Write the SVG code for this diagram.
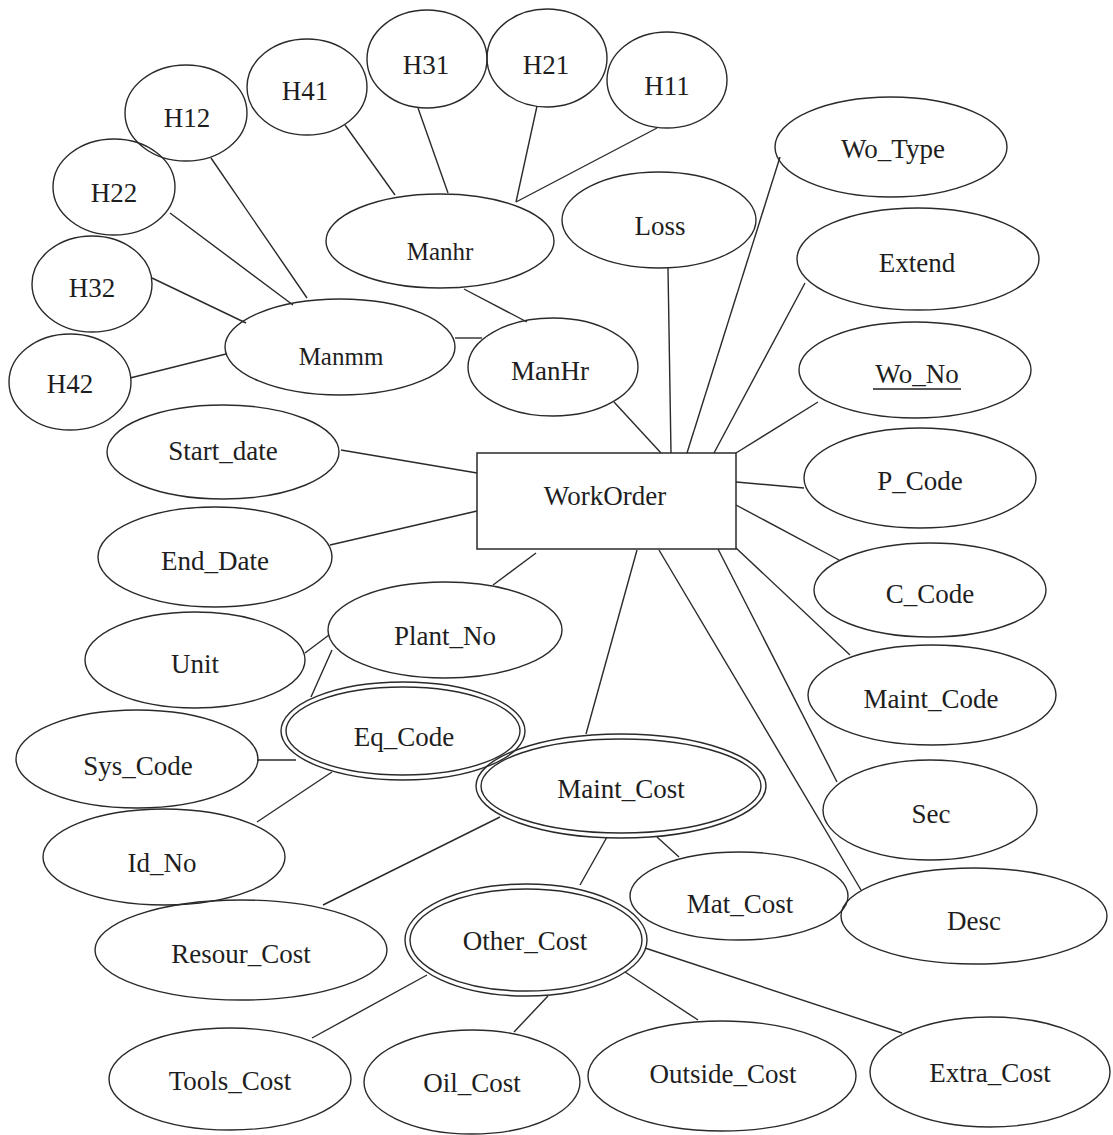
<svg xmlns="http://www.w3.org/2000/svg" width="1113" height="1135" viewBox="0 0 1113 1135">
  <style>
    .bg { fill: #ffffff; }
    .attr { fill: none; stroke: #2a2a2a; stroke-width: 1.4; }
    .ent { fill: none; stroke: #2a2a2a; stroke-width: 1.5; }
    .conn line { stroke: #2a2a2a; stroke-width: 1.4; }
    text { font-family: "Liberation Serif", "Times New Roman", serif; font-size: 27px; fill: #1e1e1e; text-anchor: middle; }
    .small { font-size: 25px; }
    .key { stroke: #1e1e1e; stroke-width: 1.3; }
  </style>
  <rect class="bg" x="0" y="0" width="1113" height="1135"/>

  <!-- relationships between the entity, its attributes and sub-attributes -->
  <g id="connectors" class="conn">
    <!-- Manmm components -->
    <line x1="211" y1="158" x2="307" y2="298"/>
    <line x1="170" y1="213" x2="293" y2="305"/>
    <line x1="152" y1="278" x2="246" y2="323"/>
    <line x1="130" y1="378" x2="226" y2="354"/>
    <!-- Manhr components -->
    <line x1="345" y1="125" x2="395" y2="195"/>
    <line x1="418" y1="108" x2="448" y2="193"/>
    <line x1="537" y1="106" x2="516" y2="202"/>
    <line x1="657" y1="128" x2="516" y2="202"/>
    <!-- ManHr composite -->
    <line x1="464" y1="289" x2="527" y2="322"/>
    <line x1="455" y1="338" x2="482" y2="338"/>
    <line x1="614" y1="402" x2="661" y2="453"/>
    <!-- WorkOrder top -->
    <line x1="668" y1="268" x2="671" y2="453"/>
    <line x1="780" y1="157" x2="687" y2="453"/>
    <line x1="805" y1="283" x2="714" y2="453"/>
    <line x1="818" y1="402" x2="736" y2="453"/>
    <!-- WorkOrder right -->
    <line x1="736" y1="482" x2="804" y2="488"/>
    <line x1="736" y1="505" x2="839" y2="560"/>
    <line x1="736" y1="548" x2="850" y2="655"/>
    <line x1="718" y1="549" x2="837" y2="782"/>
    <line x1="659" y1="550" x2="861" y2="890"/>
    <!-- WorkOrder bottom / left -->
    <line x1="637" y1="550" x2="586" y2="734"/>
    <line x1="536" y1="553" x2="493" y2="585"/>
    <line x1="341" y1="450" x2="477" y2="473"/>
    <line x1="330" y1="545" x2="477" y2="511"/>
    <!-- Plant_No / Eq_Code -->
    <line x1="305" y1="653" x2="329" y2="635"/>
    <line x1="332" y1="650" x2="311" y2="697"/>
    <line x1="257" y1="760" x2="296" y2="760"/>
    <line x1="257" y1="822" x2="332" y2="772"/>
    <!-- Maint_Cost components -->
    <line x1="500" y1="817" x2="323" y2="905"/>
    <line x1="657" y1="837" x2="679" y2="857"/>
    <line x1="607" y1="837" x2="580" y2="885"/>
    <!-- Other_Cost components -->
    <line x1="427" y1="975" x2="312" y2="1038"/>
    <line x1="548" y1="996" x2="514" y2="1032"/>
    <line x1="625" y1="972" x2="698" y2="1020"/>
    <line x1="645" y1="948" x2="902" y2="1033"/>
  </g>

  <!-- entity -->
  <g id="WorkOrder">
    <rect class="ent" x="477" y="453" width="259" height="96"/>
    <text x="605" y="505">WorkOrder</text>
  </g>

  <!-- hour sub-attributes -->
  <g id="H12"><ellipse class="attr" cx="186" cy="113" rx="61" ry="48"/><text x="187" y="127">H12</text></g>
  <g id="H41"><ellipse class="attr" cx="307" cy="87" rx="60" ry="48"/><text x="305" y="100">H41</text></g>
  <g id="H31"><ellipse class="attr" cx="427" cy="59" rx="60" ry="49"/><text x="426" y="74">H31</text></g>
  <g id="H21"><ellipse class="attr" cx="547" cy="58" rx="60" ry="49"/><text x="546" y="74">H21</text></g>
  <g id="H11"><ellipse class="attr" cx="667" cy="80" rx="60" ry="48"/><text x="667" y="95">H11</text></g>
  <g id="H22"><ellipse class="attr" cx="114" cy="187" rx="61" ry="48"/><text x="114" y="202">H22</text></g>
  <g id="H32"><ellipse class="attr" cx="92" cy="284" rx="60" ry="48"/><text x="92" y="297">H32</text></g>
  <g id="H42"><ellipse class="attr" cx="70" cy="382" rx="61" ry="48"/><text x="70" y="393">H42</text></g>

  <g id="Manhr"><ellipse class="attr" cx="440" cy="241" rx="114" ry="47"/><text class="small" x="440" y="260">Manhr</text></g>
  <g id="Manmm"><ellipse class="attr" cx="340" cy="347" rx="115" ry="48"/><text class="small" x="341" y="365">Manmm</text></g>
  <g id="ManHr"><ellipse class="attr" cx="553" cy="367" rx="85" ry="49"/><text x="550" y="380">ManHr</text></g>

  <!-- WorkOrder attributes -->
  <g id="Loss"><ellipse class="attr" cx="659" cy="220" rx="97" ry="48"/><text x="660" y="235">Loss</text></g>
  <g id="Wo_Type"><ellipse class="attr" cx="891" cy="147" rx="116" ry="50"/><text x="893" y="158">Wo_Type</text></g>
  <g id="Extend"><ellipse class="attr" cx="918" cy="259" rx="121" ry="51"/><text x="917" y="272">Extend</text></g>
  <g id="Wo_No"><ellipse class="attr" cx="915" cy="370" rx="116" ry="48"/><text x="917" y="383">Wo_No</text><line class="key" x1="873" y1="389" x2="961" y2="389"/></g>
  <g id="P_Code"><ellipse class="attr" cx="920" cy="478" rx="116" ry="50"/><text x="920" y="490">P_Code</text></g>
  <g id="C_Code"><ellipse class="attr" cx="930" cy="590" rx="116" ry="47"/><text x="930" y="603">C_Code</text></g>
  <g id="Maint_Code"><ellipse class="attr" cx="932" cy="695" rx="124" ry="50"/><text x="931" y="708">Maint_Code</text></g>
  <g id="Sec"><ellipse class="attr" cx="930" cy="810" rx="107" ry="50"/><text x="931" y="823">Sec</text></g>
  <g id="Desc"><ellipse class="attr" cx="974" cy="916" rx="133" ry="48"/><text x="974" y="930">Desc</text></g>
  <g id="Start_date"><ellipse class="attr" cx="223" cy="452" rx="116" ry="47"/><text x="223" y="460">Start_date</text></g>
  <g id="End_Date"><ellipse class="attr" cx="215" cy="557" rx="117" ry="50"/><text x="215" y="570">End_Date</text></g>

  <!-- equipment -->
  <g id="Plant_No"><ellipse class="attr" cx="445" cy="630" rx="117" ry="48"/><text x="445" y="645">Plant_No</text></g>
  <g id="Unit"><ellipse class="attr" cx="195" cy="660" rx="110" ry="48"/><text x="195" y="673">Unit</text></g>
  <g id="Eq_Code">
    <ellipse class="attr" cx="403" cy="731" rx="122" ry="49"/>
    <ellipse class="attr" cx="403" cy="731" rx="117" ry="44"/>
    <text x="404" y="746">Eq_Code</text>
  </g>
  <g id="Sys_Code"><ellipse class="attr" cx="137" cy="759" rx="121" ry="49"/><text x="138" y="775">Sys_Code</text></g>
  <g id="Id_No"><ellipse class="attr" cx="164" cy="857" rx="121" ry="48"/><text x="162" y="872">Id_No</text></g>

  <!-- maintenance cost -->
  <g id="Maint_Cost">
    <ellipse class="attr" cx="621" cy="786" rx="145" ry="52"/>
    <ellipse class="attr" cx="621" cy="786" rx="140" ry="47"/>
    <text x="621" y="798">Maint_Cost</text>
  </g>
  <g id="Resour_Cost"><ellipse class="attr" cx="241" cy="950" rx="146" ry="50"/><text x="241" y="963">Resour_Cost</text></g>
  <g id="Mat_Cost"><ellipse class="attr" cx="739" cy="896" rx="109" ry="44"/><text x="740" y="913">Mat_Cost</text></g>
  <g id="Other_Cost">
    <ellipse class="attr" cx="526" cy="940" rx="121" ry="56"/>
    <ellipse class="attr" cx="526" cy="940" rx="116" ry="51"/>
    <text x="525" y="950">Other_Cost</text>
  </g>
  <g id="Tools_Cost"><ellipse class="attr" cx="230" cy="1079" rx="121" ry="51"/><text x="230" y="1090">Tools_Cost</text></g>
  <g id="Oil_Cost"><ellipse class="attr" cx="472" cy="1082" rx="108" ry="52"/><text x="472" y="1092">Oil_Cost</text></g>
  <g id="Outside_Cost"><ellipse class="attr" cx="722" cy="1076" rx="134" ry="55"/><text x="723" y="1083">Outside_Cost</text></g>
  <g id="Extra_Cost"><ellipse class="attr" cx="990" cy="1072" rx="120" ry="55"/><text x="990" y="1082">Extra_Cost</text></g>
</svg>
